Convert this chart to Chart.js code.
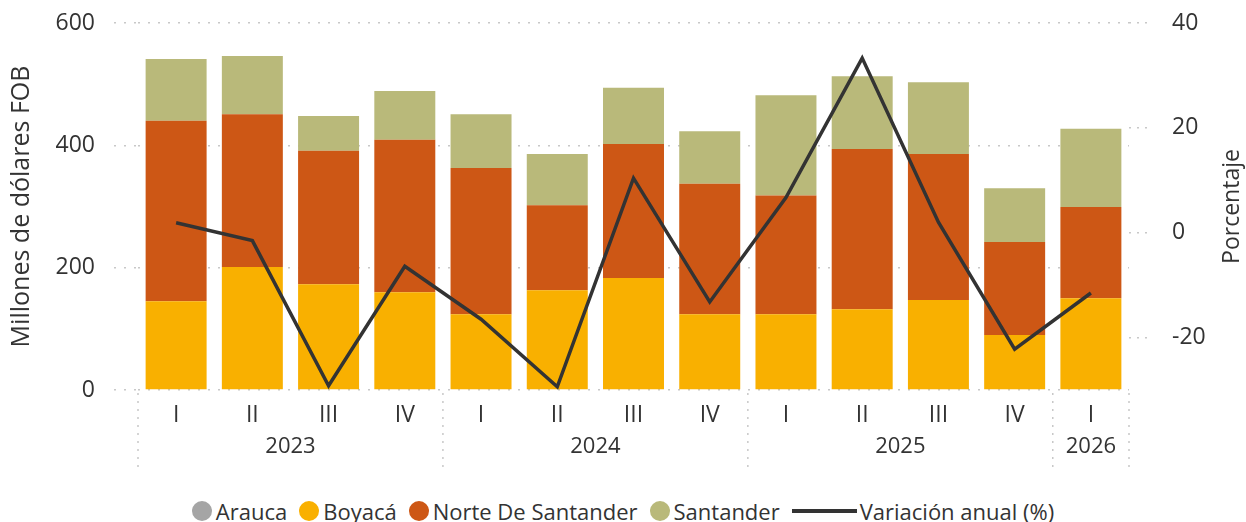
<!DOCTYPE html>
<html>
<head>
<meta charset="utf-8">
<script src="https://cdn.jsdelivr.net/npm/chart.js@4"></script>
<style>
  body { margin: 0; background: #fff; font-family: 'Open Sans', sans-serif; }
  #wrap { position: relative; width: 1246px; height: 522px; }
  #legend {
    position: absolute; left: 0; top: 498px; width: 1246px; height: 26px;
    display: flex; justify-content: center; align-items: center;
    font-size: 22px; color: #333; line-height: 26px; white-space: nowrap;
  }
  .item { display: flex; align-items: center; margin: 0 6px; }
  .dot { width: 20px; height: 20px; border-radius: 50%; margin-right: 4px; }
  .line { width: 65px; height: 4px; margin-right: 3px; }
</style>
</head>
<body>
<div id="wrap">
  <canvas id="chart" width="1246" height="495"></canvas>
  <div id="legend"></div>
</div>
<script>
// ===== Data =====
const quarters = ['I', 'II', 'III', 'IV', 'I', 'II', 'III', 'IV', 'I', 'II', 'III', 'IV', 'I'];
const years = ['2023', '2023', '2023', '2023', '2024', '2024', '2024', '2024', '2025', '2025', '2025', '2025', '2026'];

const arauca = [0, 0, 0, 0, 0, 0, 0, 0, 0, 0, 0, 0, 0];
const boyaca = [145, 201, 173, 160, 124, 163, 183, 124, 124, 132, 147, 90, 150];
const norteSantander = [295, 250, 218, 249, 239, 139, 219, 213, 194, 262, 239, 152, 149];
const santander = [101, 95, 57, 80, 88, 84, 92, 86, 164, 119, 117, 88, 128];
const variacion = [1.9, -1.5, -29.2, -6.4, -16.5, -29.4, 10.4, -13.2, 6.7, 33.3, 2.0, -22.2, -11.5];

const leftTicks = [0, 200, 400, 600];
const rightTicks = [-20, 0, 20, 40];

// ===== Style =====
const FONT = 'Open Sans';
const TEXT = '#333333';
const GRID = '#c8c8c8';
const COLORS = {
  arauca: '#a5a5a5',
  boyaca: '#f9b000',
  norte: '#cd5715',
  santander: '#b9b97a',
  line: '#333333',
};

// year groups under the quarter labels + right axis title (reads bottom-to-top)
const extras = {
  id: 'extras',
  afterDraw(chart) {
    const { ctx, chartArea, scales: { x, y1 } } = chart;
    const half = (x.getPixelForValue(1) - x.getPixelForValue(0)) / 2;
    const groups = [];
    years.forEach((yr, i) => {
      const last = groups[groups.length - 1];
      if (last && last.label === yr) last.end = i;
      else groups.push({ label: yr, start: i, end: i });
    });

    ctx.save();
    ctx.strokeStyle = GRID;
    ctx.lineWidth = 1.5;
    ctx.setLineDash([2, 6]);
    const edges = [x.getPixelForValue(0) - half, ...groups.map((g) => x.getPixelForValue(g.end) + half)];
    edges.forEach((xx) => {
      ctx.beginPath();
      ctx.moveTo(xx, x.top + 3);
      ctx.lineTo(xx, x.top + 78);
      ctx.stroke();
    });
    ctx.setLineDash([]);
    ctx.fillStyle = TEXT;
    ctx.font = `22px '${FONT}'`;
    ctx.textAlign = 'center';
    ctx.textBaseline = 'middle';
    groups.forEach((g) => {
      const cx = (x.getPixelForValue(g.start) + x.getPixelForValue(g.end)) / 2;
      ctx.fillText(g.label, cx, x.top + 57);
    });

    ctx.translate(y1.right - 14, (chartArea.top + chartArea.bottom) / 2);
    ctx.rotate(-Math.PI / 2);
    ctx.font = `23px '${FONT}'`;
    ctx.fillText('Porcentaje', 0, 0);
    ctx.restore();
  },
};

// keep the label padding from pushing the plot area down
function fitSide(width) {
  return (s) => {
    s.width = width;
    s.paddingTop = 0;
    s.paddingBottom = 0;
  };
}

const barDefaults = { type: 'bar', yAxisID: 'y', order: 2, borderWidth: 0, barPercentage: 0.8, categoryPercentage: 1 };

const chart = new Chart(document.getElementById('chart'), {
  data: {
    labels: quarters,
    datasets: [
      { ...barDefaults, label: 'Arauca', data: arauca, backgroundColor: COLORS.arauca },
      { ...barDefaults, label: 'Boyacá', data: boyaca, backgroundColor: COLORS.boyaca },
      { ...barDefaults, label: 'Norte De Santander', data: norteSantander, backgroundColor: COLORS.norte },
      { ...barDefaults, label: 'Santander', data: santander, backgroundColor: COLORS.santander },
      {
        type: 'line', label: 'Variación anual (%)', data: variacion, yAxisID: 'y1', order: 1,
        borderColor: COLORS.line, backgroundColor: COLORS.line, borderWidth: 3.5,
        pointRadius: 0, tension: 0,
      },
    ],
  },
  options: {
    responsive: false,
    animation: false,
    devicePixelRatio: 1,
    layout: { padding: { top: 23, left: 0, right: 0, bottom: 0 } },
    plugins: { legend: { display: false }, tooltip: { enabled: false } },
    scales: {
      x: {
        stacked: true,
        grid: { display: false, drawTicks: false },
        border: { display: false },
        ticks: { font: { family: FONT, size: 23 }, color: TEXT, padding: 12, maxRotation: 0, autoSkip: false },
        afterFit(s) { s.height = 105; },
      },
      y: {
        stacked: true,
        position: 'left',
        min: 0, max: 600,
        afterBuildTicks(s) { s.ticks = leftTicks.map((v) => ({ value: v })); },
        ticks: { font: { family: FONT, size: 23 }, color: TEXT, padding: 19 },
        grid: { color: GRID, lineWidth: 1.5, tickLength: 24, tickBorderDash: [2, 8] },
        border: { display: false, dash: [2, 8] },
        title: {
          display: true, text: 'Millones de dólares FOB', color: TEXT,
          font: { family: FONT, size: 25 }, padding: { top: 7, bottom: 0 },
        },
        afterFit: fitSide(138),
      },
      y1: {
        position: 'right',
        min: -30, max: 40,
        afterBuildTicks(s) { s.ticks = rightTicks.map((v) => ({ value: v })); },
        ticks: { font: { family: FONT, size: 23 }, color: TEXT, padding: 21 },
        grid: { drawOnChartArea: false, color: GRID, lineWidth: 1.5, tickLength: 22, tickBorderDash: [2, 6] },
        border: { display: false },
        afterFit: fitSide(117),
      },
    },
  },
  plugins: [extras],
});

// ===== Legend =====
document.getElementById('legend').innerHTML = chart.data.datasets.map((ds) => `
  <div class="item">
    <div class="${ds.type === 'line' ? 'line' : 'dot'}" style="background:${ds.backgroundColor}"></div>
    <span>${ds.label}</span>
  </div>`).join('');
</script>
</body>
</html>
